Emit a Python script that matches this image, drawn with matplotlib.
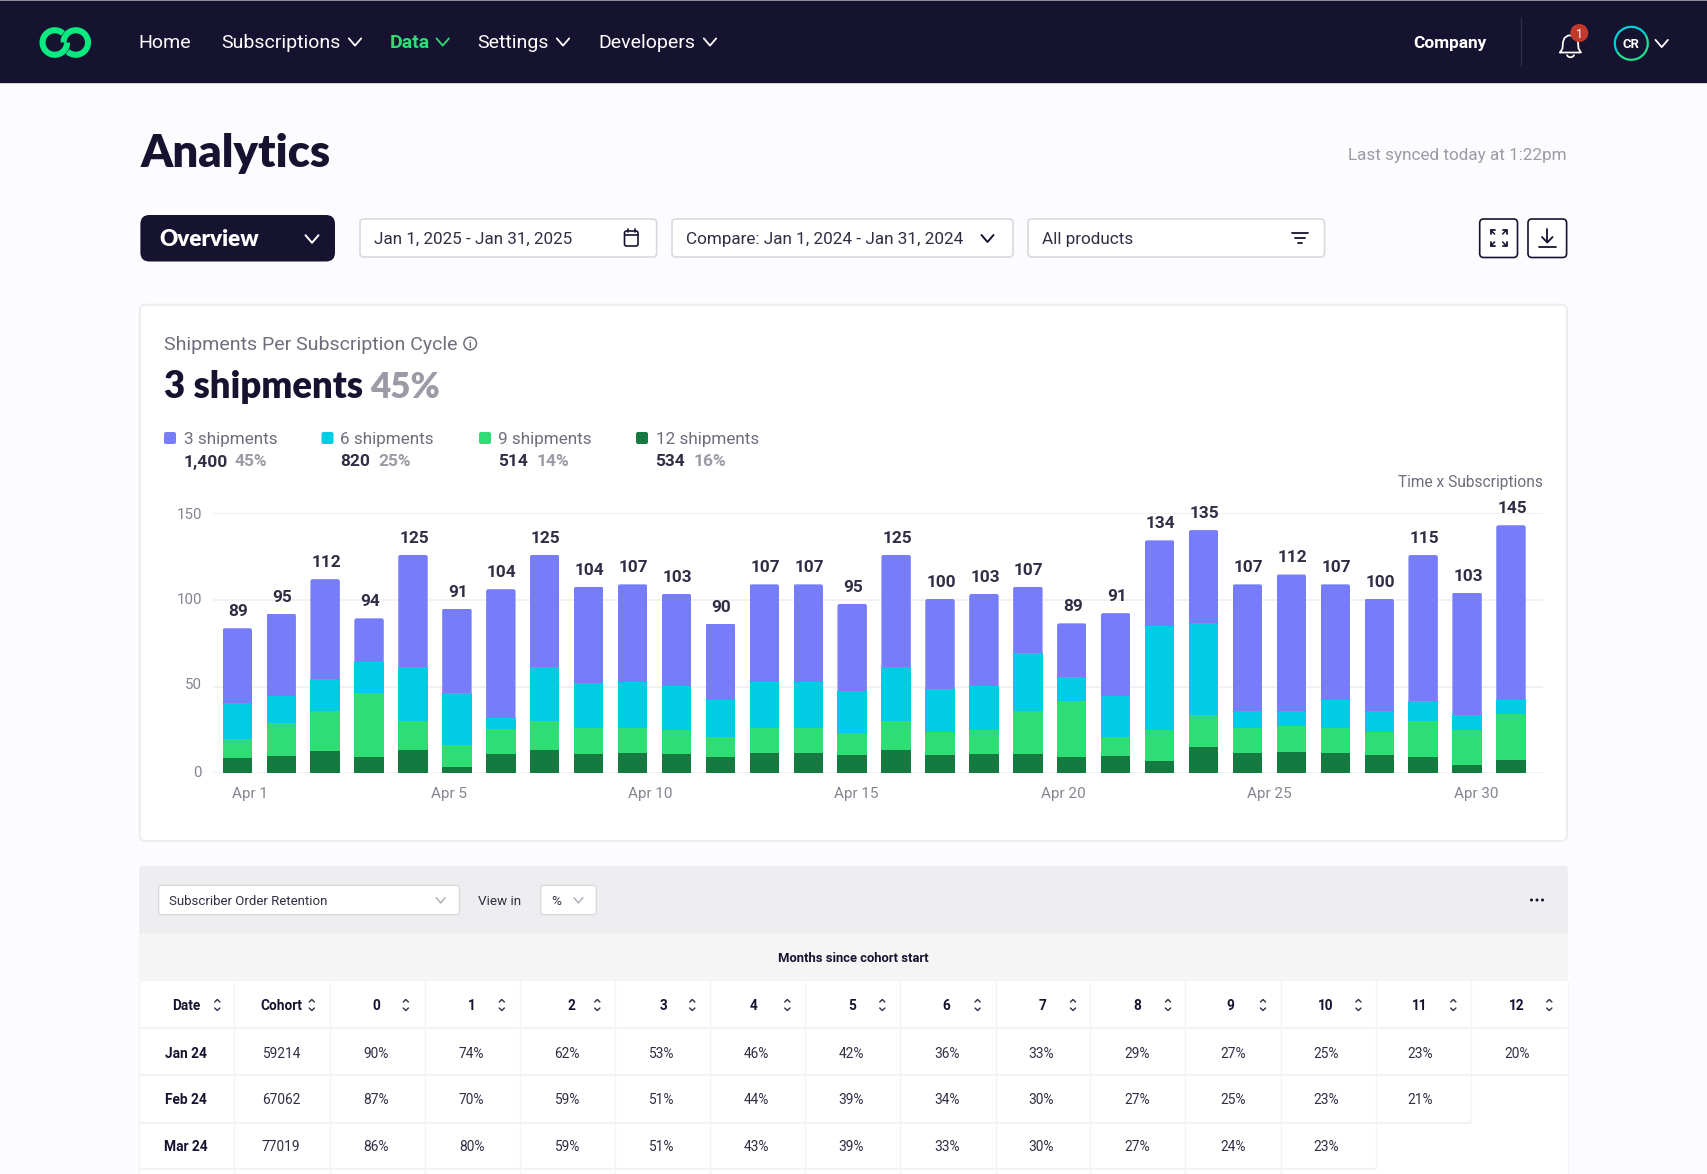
import matplotlib
matplotlib.use("Agg")
import matplotlib.pyplot as plt
from matplotlib.patches import FancyBboxPatch, Rectangle, Circle, Arc
from matplotlib.lines import Line2D
from matplotlib.transforms import IdentityTransform, ScaledTranslation

W, H = 1707, 1174

# ---------- data ----------
days_tick_labels = ["Apr 1", "Apr 5", "Apr 10", "Apr 15", "Apr 20", "Apr 25", "Apr 30"]
total_labels = [89, 95, 112, 94, 125, 91, 104, 125, 104, 107, 103, 90, 107, 107, 95,
                125, 100, 103, 107, 89, 91, 134, 135, 107, 112, 107, 100, 115, 103, 145]
ship_12 = [8.8, 9.8, 12.7, 9.2, 13.5, 3.7, 11.2, 13.5, 11.3, 11.5, 11.0, 9.2, 11.5, 11.5, 10.4,
           13.3, 10.8, 11.2, 11.2, 9.2, 9.8, 7.1, 15.0, 11.5, 12.3, 11.5, 10.8, 9.2, 4.8, 7.7]
ship_9 = [11.2, 19.0, 23.3, 37.1, 16.7, 12.7, 14.4, 16.7, 14.6, 14.6, 14.0, 11.5, 14.6, 14.6, 13.1,
          16.9, 13.3, 13.8, 24.6, 32.3, 11.2, 18.1, 18.7, 14.6, 15.2, 14.6, 13.3, 21.0, 20.4, 26.7]
ship_6 = [20.6, 16.0, 18.3, 17.7, 31.0, 29.8, 6.2, 31.0, 26.2, 26.7, 25.4, 21.3, 26.7, 26.7, 24.0,
          31.0, 24.8, 25.2, 33.8, 13.8, 23.7, 60.0, 52.9, 9.8, 8.5, 16.2, 11.9, 11.3, 8.5, 7.9]
ship_3 = [43.1, 47.3, 57.7, 25.4, 64.8, 48.8, 74.4, 64.8, 55.6, 56.2, 53.1, 44.4, 56.2, 56.2, 50.2,
          64.8, 51.7, 53.3, 38.1, 31.2, 47.7, 49.2, 53.7, 73.1, 78.7, 66.7, 64.6, 84.4, 70.6, 100.8]
legend_names = ["3 shipments", "6 shipments", "9 shipments", "12 shipments"]
legend_counts = ["1,400", "820", "514", "534"]
legend_pcts = ["45%", "25%", "14%", "16%"]
table_dates = ["Jan 24", "Feb 24", "Mar 24"]
table_cohorts = ["59214", "67062", "77019"]
table_rows = [
    [90, 74, 62, 53, 46, 42, 36, 33, 29, 27, 25, 23, 20],
    [87, 70, 59, 51, 44, 39, 34, 30, 27, 25, 23, 21],
    [86, 80, 59, 51, 43, 39, 33, 30, 27, 24, 23],
]
nav_items = ["Home", "Subscriptions", "Data", "Settings", "Developers"]

# ---------- style ----------
NAVY = "#161330"
INK = "#2F2E45"
GRAY = "#9B9AA6"
MID = "#6E6D7C"
BORDER = "#D9D9DE"
LINE = "#F3F3F5"
C3, C6, C9, C12 = "#777CF9", "#00CCE3", "#2EDD74", "#157A40"
SANS = ["Roboto", "DejaVu Sans"]
HEAD = ["Lato", "DejaVu Sans"]

fig = plt.figure(figsize=(W / 100, H / 100), dpi=100, facecolor="#FCFCFF")
bg = fig.add_axes([0, 0, 1, 1], zorder=0)
bg.set_xlim(0, W)
bg.set_ylim(H, 0)
bg.axis("off")


def T(x, y, s, size=10, color=INK, weight="normal", ha="left", fam=SANS, **kw):
    return bg.text(x, y - 1, s, fontsize=size, color=color, fontweight=weight, ha=ha,
                   va="center_baseline", family=fam, **kw)


def R(x0, y0, x1, y1, fc, ec="none", lw=0, zorder=1):
    bg.add_patch(Rectangle((x0, y0), x1 - x0, y1 - y0, facecolor=fc, edgecolor=ec, linewidth=lw, zorder=zorder))


def RB(x0, y0, x1, y1, r, fc, ec="none", lw=0, zorder=2):
    bg.add_patch(FancyBboxPatch((x0 + r, y0 + r), x1 - x0 - 2 * r, y1 - y0 - 2 * r,
                                boxstyle=f"round,pad={r},rounding_size={r}",
                                facecolor=fc, edgecolor=ec, linewidth=lw, zorder=zorder))


def L(xs, ys, color, lw=1.0, zorder=3, cap="round"):
    bg.add_line(Line2D(xs, ys, color=color, lw=lw, zorder=zorder, solid_capstyle=cap, solid_joinstyle="round"))


def chev(cx, cy, color, w=6.5, h=3.8, lw=1.4):
    L([cx - w, cx, cx + w], [cy - h, cy + h, cy - h], color, lw)


def sort_icon(cx, cy):
    L([cx - 2.6, cx, cx + 2.6], [cy - 3, cy - 5.5, cy - 3], INK, 1.0)
    L([cx - 2.6, cx, cx + 2.6], [cy + 3, cy + 5.5, cy + 3], INK, 1.0)


# ---------- nav ----------
R(0, 0, W, 83, NAVY)
R(0, 0, W, 1, "#8E8D99", zorder=2)
R(0, 83, W, 84, "#D6D6DC", zorder=2)
LOGO = "#0BEA80"
for cx, a1, a2 in [(54.8, 0, 312), (75.8, 180, 492)]:
    bg.add_patch(Arc((cx, 42.5), 24.5, 24.5, theta1=a1, theta2=a2, color=LOGO, lw=4.4, zorder=3))

nav_x = [138.5, 221.3, 390, 477.5, 598.5]
nav_chev = [None, 355, 442.7, 563, 710]
for name, x, cv in zip(nav_items, nav_x, nav_chev):
    col = "#2EDD74" if name == "Data" else "#FFFFFF"
    T(x, 41.7, name, 14, col, "bold" if name == "Data" else "normal")
    if cv:
        chev(cv, 42, col, 6.2, 3.6, 1.3)

T(1413.5, 43, "Company", 12.4, "#FFFFFF", "bold")
L([1521, 1521], [17, 66], "#2F2C49", 1.0)
# bell
bx = 1570.5
L([bx - 10.5, bx - 8, bx - 7.5, bx - 6, bx - 2.5, bx + 2.5, bx + 6, bx + 7.5, bx + 8, bx + 10.5, bx - 10.5],
  [52.5, 48.5, 42, 38, 35.5, 35.5, 38, 42, 48.5, 52.5, 52.5], "#FFFFFF", 1.25)
bg.add_patch(Arc((bx, 54.5), 7, 5.5, theta1=0, theta2=180, color="#FFFFFF", lw=1.25, zorder=3))
bg.add_patch(Circle((1579.3, 33), 9, facecolor="#C0392B", zorder=4))
T(1579.3, 33.5, "1", 9, "#FFFFFF", ha="center", zorder=5)
bg.add_patch(Arc((1631.3, 43.3), 33, 33, theta1=-30, theta2=150, color="#1EE28A", lw=1.6, zorder=3))
bg.add_patch(Arc((1631.3, 43.3), 33, 33, theta1=150, theta2=330, color="#00CFD8", lw=1.6, zorder=3))
T(1631.3, 44, "CR", 9.4, "#FFFFFF", "bold", ha="center")
chev(1661.7, 43.5, "#FFFFFF", 6.2, 3.6, 1.3)

# ---------- page header ----------
T(140.5, 151, "Analytics", 32.8, NAVY, "heavy", fam=HEAD)
T(1566.6, 155.2, "Last synced today at 1:22pm", 12.3, GRAY, ha="right")

RB(140.4, 215, 335, 261.5, 9, NAVY)
T(159.5, 239, "Overview", 16.2, "#FFFFFF", "heavy", fam=HEAD)
chev(312, 239, "#FFFFFF")

RB(360, 219, 656.6, 257, 4, "#FFFFFF", BORDER, 1.2)
T(374.2, 239, "Jan 1, 2025 - Jan 31, 2025", 12.25, INK)
RB(624.5, 231, 638, 246, 2, "none", NAVY, 1.2, zorder=3)
L([624.5, 638], [235, 235], NAVY, 1.2)
L([628, 628], [229, 232], NAVY, 1.2)
L([634.5, 634.5], [229, 232], NAVY, 1.2)

RB(672, 219, 1013, 257, 4, "#FFFFFF", BORDER, 1.2)
T(686.5, 239, "Compare: Jan 1, 2024 - Jan 31, 2024", 12.3, INK)
chev(987.5, 238.5, NAVY, 6, 3.5, 1.4)

RB(1028, 219, 1324.6, 257, 4, "#FFFFFF", BORDER, 1.2)
T(1042.2, 239, "All products", 12.3, INK)
L([1292, 1308], [233, 233], NAVY, 1.3)
L([1295, 1305], [238, 238], NAVY, 1.3)
L([1298, 1302], [243, 243], NAVY, 1.3)

RB(1479.7, 219, 1517.5, 257.5, 4, "#FFFFFF", NAVY, 1.2)
RB(1528, 219, 1566.6, 257.5, 4, "#FFFFFF", NAVY, 1.2)
ex, ey = 1498.6, 238
for sx in (-1, 1):
    for sy in (-1, 1):
        L([ex + sx * 8, ex + sx * 8, ex + sx * 4], [ey + sy * 4, ey + sy * 8, ey + sy * 8], NAVY, 1.3)
        L([ex + sx * 8, ex + sx * 4], [ey + sy * 8, ey + sy * 4], NAVY, 1.1)
L([1547.3, 1547.3], [229, 242], NAVY, 1.3)
L([1542, 1547.3, 1552.6], [237, 242.5, 237], NAVY, 1.3)
L([1539, 1555.6], [246.5, 246.5], NAVY, 1.3)

# ---------- chart card ----------
RB(139.8, 304.7, 1567, 841, 6, "#FFFFFF", "#ECECF0", 1.4, zorder=1)
T(164.4, 344, "Shipments Per Subscription Cycle", 14, MID)
bg.add_patch(Circle((470.2, 343.5), 6.3, facecolor="none", edgecolor=MID, linewidth=1.1, zorder=3))
T(470.2, 344.5, "i", 7.5, MID, "bold", ha="center")
T(164.4, 385, "3 shipments", 26.3, NAVY, "heavy", fam=HEAD)
T(370.5, 385, "45%", 25.2, GRAY, "heavy", fam=HEAD)

swatch_x = [164, 321.5, 479, 636]
text_x = [183.5, 340.5, 498.2, 655.5]
pct_x = [235, 378.5, 536.5, 693.5]
for name, cnt, pct, sx, tx, px, col in zip(legend_names, legend_counts, legend_pcts, swatch_x, text_x, pct_x,
                                           [C3, C6, C9, C12]):
    RB(sx, 432, sx + 12, 444, 2, col)
    T(tx, 438.8, name, 12.35, MID)
    T(tx, 461.5, cnt, 12.5, INK, "bold")
    T(px, 461.5, pct, 12.5, GRAY, "bold")

T(1542.7, 482, "Time x Subscriptions", 11.2, MID, ha="right")

ax_top, ax_bot = 513.3, 773.3
ax_l, ax_r = 213.0, 1542.8
ax = fig.add_axes([ax_l / W, 1 - ax_bot / H, (ax_r - ax_l) / W, (ax_bot - ax_top) / H], zorder=2)
ax.patch.set_alpha(0)
x = list(range(len(total_labels)))
step = 43.92
ax.set_xlim((ax_l - 237.3) / step, (ax_r - 237.3) / step)
ax.set_ylim(0, 150)
bottom = [0.0] * len(x)
top_bars = None
for vals, col in [(ship_12, C12), (ship_9, C9), (ship_6, C6), (ship_3, C3)]:
    top_bars = ax.bar(x, vals, bottom=bottom, width=0.67, color=col, linewidth=0, zorder=3)
    bottom = [b + v for b, v in zip(bottom, vals)]
# rounded top corners on the top segment
r = 2.2
for bar in top_bars:
    e = bar.get_window_extent()
    clip = FancyBboxPatch((e.x0 + r, e.y0 - 6), e.width - 2 * r, e.height + 6 - r,
                          boxstyle=f"round,pad={r},rounding_size={r}", transform=IdentityTransform())
    bar.set_clip_path(clip)
for xi, top, lab in zip(x, bottom, total_labels):
    ax.annotate(str(lab), (xi, top), xytext=(1, 18), textcoords="offset pixels", ha="center",
                va="center_baseline", fontsize=12.4, fontweight="bold", color=INK, family=SANS,
                annotation_clip=False, zorder=5)
ax.set_yticks([0, 50, 100, 150])
ax.set_yticklabels(["0", "50", "100", "150"], family=SANS, fontsize=10.8, color="#858491")
ax.set_xticks([0.29, 4.81, 9.41, 14.1, 18.8, 23.5, 28.2])
ax.set_xticklabels(days_tick_labels, family=SANS, fontsize=11, color="#858491")
ax.tick_params(axis="both", length=0)
ax.tick_params(axis="y", pad=8)
ax.tick_params(axis="x", pad=10)
ax.grid(axis="y", color="#EEEEF1", lw=1.1, zorder=0)
ax.set_axisbelow(True)
for lab, dy in zip(ax.get_yticklabels(), [2, 3, 1, 0]):
    lab.set_transform(lab.get_transform() + ScaledTranslation(0, dy / 100, fig.dpi_scale_trans))
for s in ax.spines.values():
    s.set_visible(False)

# ---------- table panel ----------
R(139.2, 980.7, 1567.8, H, "#FFFFFF", zorder=1)
RB(139.2, 866, 1567.8, 950, 3, "#EEEEF0", zorder=1)
R(139.2, 934, 1567.8, 980.7, "#F5F5F6", zorder=2)
RB(158.6, 885.3, 459.6, 914.7, 3, "#FFFFFF", BORDER, 1.0)
T(169.2, 900.8, "Subscriber Order Retention", 9.55, INK)
chev(440.7, 900.3, "#A9A9B3", 4.5, 2.7, 1.0)
T(478.5, 900.8, "View in", 9.7, INK)
RB(540.6, 885.3, 596.3, 914.7, 3, "#FFFFFF", BORDER, 1.0)
T(551.2, 900.8, "%", 9.7, INK)
chev(578.4, 900.3, "#A9A9B3", 4.5, 2.7, 1.0)
for dx in (-5.5, 0, 5.5):
    bg.add_patch(Circle((1537 + dx, 900), 1.5, facecolor=NAVY, zorder=3))
T(853.5, 958.5, "Months since cohort start", 9.4, NAVY, "bold", ha="center")

col_edges = [139.2, 234.2, 329.7, 424.7, 519.7, 614.8, 709.8, 804.8, 900, 995.5, 1090.4, 1185.4, 1280.8,
             1375.8, 1471.3, 1567.8]
row_edges = [980.7, 1027.7, 1075, 1123, 1169.3, H]
row_last_col = [15, 15, 14, 13, 12]
for i, last in enumerate(row_last_col):
    for c in range(last + 1):
        L([col_edges[c]] * 2, [row_edges[i], row_edges[i + 1]], LINE, 1.0, cap="butt")
    if i < len(row_last_col) - 1:
        L([col_edges[0], col_edges[last]], [row_edges[i + 1]] * 2, LINE, 1.6, cap="butt")
L([col_edges[-1]] * 2, [1075, H], LINE, 1.0, cap="butt")

hdr_labels = ["Date", "Cohort"] + [str(i) for i in range(13)]
hdr_x = [186, 281.2, 375.8, 472, 571.6, 663, 753.4, 852.3, 946.5, 1042.4, 1137.4, 1230, 1325.7, 1420, 1516.6]
sort_x = [217.3, 311.8, 405.8, 501.8, 597.3, 692.3, 787.3, 882.3, 977.6, 1073, 1168, 1263, 1358.4, 1453.3, 1549.3]
for lab, hx, sx in zip(hdr_labels, hdr_x, sort_x):
    T(hx, 1006, lab, 9.8, NAVY, "bold", ha="center")
    sort_icon(sx, 1005)

cell_x = [375.8, 471.7, 567.2, 661, 756.3, 851.3, 947.5, 1041.4, 1136.9, 1232.8, 1326.2, 1420.6, 1517.6]
row_y = [1054, 1100, 1146.3]
for d, coh, vals, y in zip(table_dates, table_cohorts, table_rows, row_y):
    T(185.7, y, d, 9.9, NAVY, "bold", ha="center")
    T(281.2, y, coh, 9.9, INK, ha="center")
    for v, cx in zip(vals, cell_x):
        T(cx, y, f"{v}%", 9.9, INK, ha="center")

fig.savefig("out.png", dpi=100, facecolor=fig.get_facecolor())
